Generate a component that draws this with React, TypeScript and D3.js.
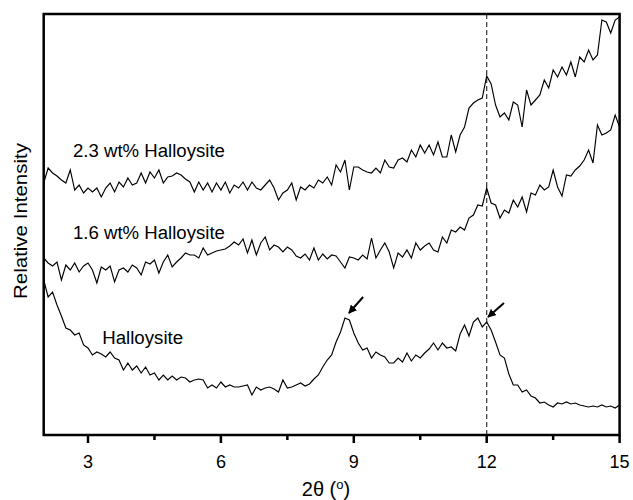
import React from "react";
import * as d3 from "d3";

// 2θ grid (degrees), XRD scan step
const thetaStart = 2;
const thetaStep = 0.1;

// Relative intensity (a.u.)
const wt23: number[] = [
  252, 267, 262, 259, 255, 252, 265, 245, 250, 242,
  247, 243, 247, 238, 247, 252, 243, 253, 248, 257,
  250, 252, 262, 252, 263, 257, 265, 252, 258, 259,
  262, 260, 256, 253, 243, 253, 245, 252, 243, 252,
  245, 253, 242, 250, 247, 253, 245, 253, 247, 245,
  250, 255, 247, 235, 242, 245, 252, 235, 248, 245,
  250, 247, 255, 252, 258, 250, 270, 263, 275, 245,
  268, 268, 265, 263, 262, 267, 262, 275, 268, 267,
  275, 277, 273, 285, 278, 290, 282, 290, 280, 293,
  278, 278, 300, 283, 300, 308, 327, 332, 335, 337,
  359, 351, 330, 318, 322, 315, 333, 330, 308, 345,
  330, 335, 340, 355, 347, 365, 358, 368, 360, 373,
  358, 378, 373, 385, 375, 380, 415, 413, 402, 415,
  418,
];

const wt16: number[] = [
  177, 172, 169, 173, 155, 170, 165, 172, 163, 169,
  172, 165, 152, 168, 165, 169, 153, 165, 167, 163,
  170, 167, 160, 173, 171, 175, 162, 173, 180, 168,
  173, 177, 182, 180, 180, 177, 187, 180, 182, 184,
  185, 186, 189, 193, 190, 196, 182, 195, 180, 192,
  198, 185, 190, 188, 183, 188, 185, 179, 177, 181,
  175, 187, 175, 181, 176, 180, 179, 173, 167, 178,
  177, 175, 180, 176, 197, 177, 185, 192, 183, 167,
  182, 178, 185, 177, 192, 185, 189, 192, 185, 183,
  198, 192, 205, 203, 208, 205, 217, 220, 230, 229,
  247, 232, 230, 217, 225, 222, 235, 228, 238, 223,
  242, 240, 250, 245, 248, 265, 248, 239, 260, 259,
  265, 269, 275, 285, 272, 310, 300, 302, 305, 320,
  308,
];

const halloysite: number[] = [
  155, 138, 143, 130, 119, 107, 105, 100, 102, 90,
  87, 80, 83, 81, 78, 83, 77, 75, 65, 72,
  65, 69, 62, 68, 60, 62, 55, 60, 55, 59,
  55, 58, 57, 53, 55, 56, 55, 47, 50, 47,
  53, 48, 50, 48, 48, 49, 50, 40, 48, 45,
  47, 48, 46, 43, 55, 47, 48, 50, 52, 49,
  51, 56, 60, 68, 75, 80, 93, 103, 117, 115,
  102, 92, 85, 87, 77, 83, 80, 78, 72, 72,
  77, 73, 82, 74, 80, 77, 82, 86, 92, 85,
  92, 87, 88, 84, 101, 110, 99, 113, 117, 108,
  113, 105, 93, 80, 77, 61, 50, 50, 43, 45,
  39, 37, 32, 33, 30, 28, 32, 31, 33, 31,
  32, 30, 29, 28, 29, 28, 30, 28, 29, 27,
  30,
];

const seriesNames = ["2.3 wt% Halloysite", "1.6 wt% Halloysite", "Halloysite"];
// label anchor positions (2θ, intensity)
const labelTheta = [2.66, 2.66, 3.32];
const labelIntensity = [278, 196, 91];
const labelWidths = [152, 152, 81];

const majorTicks = [3, 6, 9, 12, 15];
const minorTicks = [4.5, 7.5, 10.5, 13.5];
const refLine = 12;

// arrows: [tailθ, tailI, tipθ, tipI]
const arrows = [
  [9.21, 138, 8.89, 122],
  [12.39, 132, 12.03, 118],
];

const W = 633;
const H = 500;
const M = { left: 43.7, right: 619.6, top: 14, bottom: 435 };
const FONT = "'Liberation Sans', Arial, Helvetica, sans-serif";

export default function App() {
  const x = d3.scaleLinear().domain([2, 15]).range([M.left, M.right]);
  const y = d3.scaleLinear().domain([0, 421]).range([M.bottom, M.top]);

  const line = d3
    .line<number>()
    .x((_, i) => x(thetaStart + i * thetaStep))
    .y((d) => y(d));

  const allSeries = [wt23, wt16, halloysite];

  return (
    <svg
      width={W}
      height={H}
      style={{ position: "absolute", left: 0, top: 0, background: "#fff", display: "block" }}
      fontFamily={FONT}
    >
      <defs>
        <marker
          id="ah"
          viewBox="0 0 10 10"
          refX="9"
          refY="5"
          markerWidth="4.2"
          markerHeight="4.2"
          orient="auto"
          markerUnits="strokeWidth"
        >
          <path d="M0,0 L10,5 L0,10 z" fill="#000" />
        </marker>
      </defs>

      {/* dashed reference line */}
      <line
        x1={x(refLine)}
        x2={x(refLine)}
        y1={M.top}
        y2={M.bottom}
        stroke="#333"
        strokeWidth={1.2}
        strokeDasharray="5,3"
      />

      {allSeries.map((s, i) => (
        <path key={i} d={line(s) || ""} fill="none" stroke="#000" strokeWidth={1.15} strokeLinejoin="miter" />
      ))}

      {arrows.map((a, i) => (
        <line
          key={i}
          x1={x(a[0])}
          y1={y(a[1])}
          x2={x(a[2])}
          y2={y(a[3])}
          stroke="#000"
          strokeWidth={2}
          markerEnd="url(#ah)"
        />
      ))}

      {seriesNames.map((n, i) => (
        <text
          key={n}
          x={x(labelTheta[i])}
          y={y(labelIntensity[i])}
          fontSize={18}
          fill="#000"
          textLength={labelWidths[i]}
          lengthAdjust="spacingAndGlyphs"
        >
          {n}
        </text>
      ))}

      {/* frame */}
      <rect
        x={M.left}
        y={M.top}
        width={M.right - M.left}
        height={M.bottom - M.top}
        fill="none"
        stroke="#000"
        strokeWidth={2.5}
      />

      {/* ticks */}
      {majorTicks.map((t) => (
        <g key={t}>
          <line x1={x(t)} x2={x(t)} y1={M.bottom} y2={M.bottom + 8} stroke="#000" strokeWidth={2.5} />
          <text x={x(t)} y={M.bottom + 33} textAnchor="middle" fontSize={18}>
            {t}
          </text>
        </g>
      ))}
      {minorTicks.map((t) => (
        <line key={t} x1={x(t)} x2={x(t)} y1={M.bottom} y2={M.bottom + 5} stroke="#000" strokeWidth={2.5} />
      ))}

      <text x={326} y={496} textAnchor="middle" fontSize={20}>
        2θ (<tspan fontSize={13} dy={-7}>o</tspan>
        <tspan dy={7}>)</tspan>
      </text>

      <text
        transform={`translate(27, 221) rotate(-90)`}
        textAnchor="middle"
        fontSize={19}
        textLength={156}
        lengthAdjust="spacingAndGlyphs"
      >
        Relative Intensity
      </text>
    </svg>
  );
}
